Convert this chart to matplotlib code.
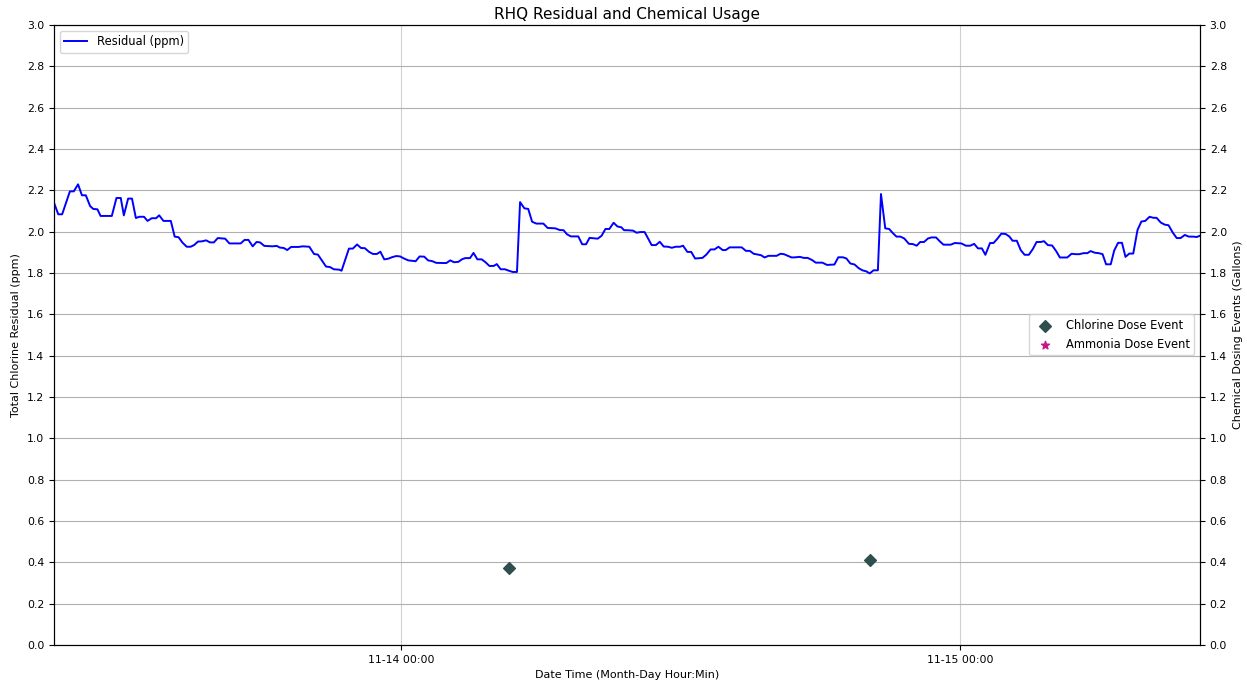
import matplotlib
matplotlib.use('Agg')
import matplotlib.pyplot as plt
import matplotlib.dates as mdates
import pandas as pd

# residual readings: minutes after 11-13 09:00 and value in ppm
resid_minutes = [6, 17, 27, 47, 57, 68, 78, 88, 99, 107, 118, 126, 155, 167, 178, 186, 197, 207, 217, 226,
                 238, 247, 258, 269, 277, 288, 307, 317, 327, 337, 348, 358, 367, 377, 387, 398, 408, 418,
                 428, 447, 458, 487, 497, 507, 518, 528, 537, 548, 569, 580, 588, 598, 607, 617, 636, 647,
                 664, 676, 686, 707, 717, 727, 741, 747, 766, 776, 787, 797, 807, 818, 828, 838, 847, 857,
                 867, 878, 888, 898, 908, 919, 938, 948, 960, 970, 981, 991, 1017, 1027, 1037, 1048, 1058,
                 1066, 1078, 1087, 1097, 1108, 1118, 1128, 1139, 1147, 1157, 1168, 1178, 1188, 1199, 1207,
                 1218, 1228, 1238, 1249, 1267, 1278, 1298, 1309, 1319, 1328, 1338, 1357, 1367, 1377, 1386,
                 1407, 1417, 1427, 1437, 1448, 1458, 1468, 1475, 1483, 1498, 1507, 1517, 1528, 1546, 1557,
                 1567, 1577, 1588, 1598, 1608, 1619, 1627, 1638, 1648, 1658, 1677, 1687, 1698, 1708, 1718,
                 1729, 1737, 1747, 1778, 1789, 1799, 1809, 1828, 1837, 1847, 1868, 1878, 1887, 1897, 1907,
                 1917, 1928, 1938, 1948, 1959, 1969, 1986, 1998, 2017, 2027, 2039, 2048, 2058, 2069, 2079,
                 2089, 2099, 2108, 2118, 2129, 2137, 2148, 2158, 2168, 2177, 2187, 2197, 2209, 2219, 2229,
                 2238, 2248, 2258, 2267, 2279, 2288, 2298, 2317, 2327, 2344, 2356, 2367, 2377, 2387, 2397,
                 2406, 2418, 2427, 2437, 2447, 2458, 2468, 2476, 2487, 2497, 2507, 2518, 2528, 2538, 2549,
                 2557, 2567, 2578, 2588, 2598, 2617, 2628, 2638, 2648, 2659, 2669, 2677, 2688, 2698, 2708,
                 2717, 2729, 2738, 2748, 2758, 2767, 2777, 2787, 2798, 2808, 2818, 2829, 2839, 2847, 2858,
                 2868, 2878, 2889, 2899, 2909, 2920, 2930, 2942, 2950, 2959]
resid_ppm = [2.14, 2.084, 2.084, 2.195, 2.195, 2.229, 2.176, 2.176, 2.124, 2.11, 2.108, 2.076, 2.076, 2.163,
             2.163, 2.079, 2.16, 2.16, 2.066, 2.072, 2.072, 2.052, 2.065, 2.065, 2.079, 2.052, 2.052, 1.976,
             1.973, 1.947, 1.927, 1.927, 1.935, 1.952, 1.953, 1.958, 1.948, 1.948, 1.969, 1.966, 1.943, 1.943,
             1.96, 1.96, 1.929, 1.95, 1.948, 1.931, 1.929, 1.931, 1.923, 1.921, 1.911, 1.926, 1.926, 1.929,
             1.927, 1.892, 1.889, 1.831, 1.829, 1.818, 1.816, 1.811, 1.918, 1.918, 1.938, 1.921, 1.92, 1.902,
             1.892, 1.892, 1.903, 1.866, 1.869, 1.877, 1.882, 1.88, 1.87, 1.861, 1.857, 1.88, 1.879, 1.861,
             1.857, 1.849, 1.848, 1.861, 1.852, 1.854, 1.867, 1.872, 1.872, 1.897, 1.866, 1.866, 1.852, 1.834,
             1.834, 1.843, 1.818, 1.818, 1.811, 1.805, 1.805, 2.143, 2.113, 2.11, 2.048, 2.039, 2.039, 2.018,
             2.016, 2.008, 2.007, 1.987, 1.977, 1.977, 1.939, 1.939, 1.97, 1.966, 1.98, 2.013, 2.013, 2.043,
             2.025, 2.021, 2.007, 2.007, 2.005, 1.995, 1.998, 1.998, 1.935, 1.935, 1.951, 1.928, 1.927, 1.922,
             1.927, 1.927, 1.932, 1.902, 1.902, 1.87, 1.873, 1.889, 1.914, 1.914, 1.927, 1.911, 1.911, 1.924,
             1.924, 1.907, 1.907, 1.893, 1.886, 1.875, 1.883, 1.883, 1.893, 1.891, 1.883, 1.875, 1.876, 1.878,
             1.873, 1.873, 1.863, 1.85, 1.85, 1.839, 1.841, 1.876, 1.876, 1.87, 1.846, 1.841, 1.824, 1.813,
             1.808, 1.798, 1.813, 1.813, 2.182, 2.016, 2.013, 1.992, 1.976, 1.976, 1.967, 1.941, 1.94, 1.932,
             1.95, 1.95, 1.967, 1.972, 1.972, 1.954, 1.937, 1.937, 1.945, 1.943, 1.932, 1.932, 1.941, 1.919,
             1.919, 1.888, 1.945, 1.945, 1.966, 1.99, 1.989, 1.976, 1.956, 1.956, 1.911, 1.888, 1.888, 1.915,
             1.95, 1.95, 1.954, 1.935, 1.933, 1.907, 1.875, 1.875, 1.893, 1.891, 1.891, 1.896, 1.896, 1.906,
             1.898, 1.896, 1.891, 1.842, 1.842, 1.909, 1.946, 1.946, 1.878, 1.894, 1.894, 2.008, 2.049, 2.052,
             2.072, 2.067, 2.067, 2.044, 2.034, 2.031, 1.995, 1.969, 1.969, 1.984, 1.976, 1.976, 1.974, 1.98]

# dose events
chlorine_times = ['2019-11-14 04:38', '2019-11-14 20:08']
chlorine_gallons = [0.373, 0.411]
ammonia_times = []
ammonia_gallons = []

start = pd.Timestamp('2019-11-13 09:00')
resid_times = start + pd.to_timedelta(resid_minutes, unit='min')

plt.rcParams['xtick.labelsize'] = 7.8
plt.rcParams['ytick.labelsize'] = 7.8

fig, ax1 = plt.subplots(figsize=(12.47, 6.81), dpi=100)
fig.subplots_adjust(left=0.0433, right=0.9623, top=0.9633, bottom=0.0529)

ax1.plot(resid_times, resid_ppm, color='blue', linewidth=1.4, label='Residual (ppm)')
ax1.set_ylim(0, 3.0)
ax1.set_yticks([i / 5 for i in range(16)])
ax1.set_xlim(resid_times[0], resid_times[-1])
ax1.xaxis.set_major_locator(mdates.DayLocator())
ax1.xaxis.set_major_formatter(mdates.DateFormatter('%m-%d %H:%M'))
ax1.xaxis.grid(True, color='#d0d0d0')
ax1.yaxis.grid(True, color='#b0b0b0')
ax1.set_xlabel('Date Time (Month-Day Hour:Min)', fontsize=8)
ax1.set_ylabel('Total Chlorine Residual (ppm)', fontsize=8)
ax1.set_title('RHQ Residual and Chemical Usage', fontsize=11, pad=4)
ax1.legend(loc='upper left', fontsize=8.3)

ax2 = ax1.twinx()
ax2.scatter(pd.to_datetime(chlorine_times), chlorine_gallons, marker='D', color='darkslategray',
            s=36, label='Chlorine Dose Event')
ax2.scatter(pd.to_datetime(ammonia_times), ammonia_gallons, marker='*', color='mediumvioletred',
            s=36, label='Ammonia Dose Event')
ax2.set_ylim(0, 3.0)
ax2.set_yticks([i / 5 for i in range(16)])
ax2.set_ylabel('Chemical Dosing Events (Gallons)', fontsize=8)
ax2.legend(loc='center right', fontsize=8.3)

plt.savefig('out.png')
